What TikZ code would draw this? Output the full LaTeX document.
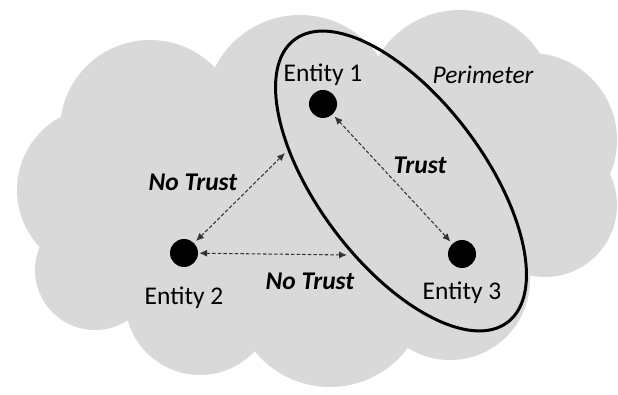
\documentclass[tikz,border=0pt]{standalone}
\usepackage{fontspec}
\setmainfont{Carlito}
\usetikzlibrary{positioning,arrows.meta,shapes.geometric}
\definecolor{cloudgray}{RGB}{217,217,217}

\begin{document}
\begin{tikzpicture}[
      x=0.02cm, y=0.02cm,
      every node/.style={font=\fontsize{14.5pt}{16pt}\selectfont},
      entity/.style={circle, fill=black, minimum size=0.56cm, inner sep=0pt},
      lbl/.style={inner sep=0pt},
      trustlbl/.style={inner sep=0pt, font=\fontsize{14.5pt}{16pt}\selectfont\bfseries\itshape},
      perimeter/.style={draw, ellipse, line width=1.7pt, minimum width=7.08cm, minimum height=3.32cm, inner sep=0pt},
      link/.style={{Latex[length=4.5pt,width=4pt]}-{Latex[length=4.5pt,width=4pt]}, line width=0.6pt, black!80, dash pattern=on 2pt off 1.2pt, shorten <=1.5pt, shorten >=1.5pt},
    ]
    \useasboundingbox (0,0) rectangle (618,395);

    % Cloud
    \fill[cloudgray] (150,265) circle (90) (300,285) circle (95) (460,290) circle (95)
      (530,255) circle (87) (545,190) circle (72) (100,205) circle (83)
      (95,125) circle (60) (200,95) circle (75) (330,105) circle (97)
      (450,115) circle (80) (320,195) circle (150);

    % Perimeter
    \node[perimeter, rotate=-53] (ring) at (401,214) {};
    \node[lbl, font=\fontsize{14.5pt}{16pt}\selectfont\itshape] (perimlbl) at (483,320) {Perimeter};

    % Entities
    \node[entity] (e1) at (323,291) {};
    \node[entity] (e2) at (184,142) {};
    \node[entity] (e3) at (462,141) {};
    \node[lbl, above=0.08cm of e1] (e1lbl) {Entity 1};
    \node[lbl, below=0.38cm of e2] (e2lbl) {Entity 2};
    \node[lbl, below=0.26cm of e3] (e3lbl) {Entity 3};

    % Links
    \coordinate (nt1) at (285,242);
    \coordinate (nt2) at (347,140);
    \draw[link] (e1) -- (e3);
    \draw[link, shorten >=0pt] (e2) -- (nt1);
    \draw[link, shorten >=0pt, shorten <=0.5pt] (e2) -- (nt2);

    % Link labels
    \node[trustlbl] (trust) at (420,230) {Trust};
    \node[trustlbl] (notrust1) at (193,213) {No Trust};
    \node[trustlbl] (notrust2) at (310,114) {No Trust};
  \end{tikzpicture}
\end{document}
